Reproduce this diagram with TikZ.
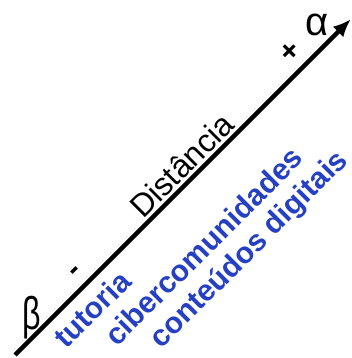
\documentclass[tikz,border=0pt]{standalone}
\usepackage{fontspec}
\setmainfont{Liberation Sans}
\usetikzlibrary{arrows.meta}
\definecolor{distblue}{HTML}{2640C4}
\tikzset{
  distaxis/.style={-{Latex[length=18pt,width=15pt]},line width=4.5pt},
  distlabel/.style={font=\fontsize{32}{36}\selectfont,rotate=45,anchor=base,inner sep=0pt},
  modlabel/.style={font=\bfseries\fontsize{30}{34}\selectfont,text=distblue,rotate=45,anchor=base,inner sep=0pt},
  signlabel/.style={font=\bfseries\fontsize{30}{34}\selectfont,rotate=45,inner sep=0pt},
  endlabel/.style={font=\fontsize{40}{44}\selectfont,inner sep=0pt}
}
\begin{document}
\begin{tikzpicture}[x=1pt,y=1pt]
\useasboundingbox (0,0) rectangle (352,358);
\begin{scope}[shift={(15,3)},rotate=45]
\coordinate (low) at (0,0);
\coordinate (high) at (475,0);
\draw[distaxis] (low) -- (high);
\node[distlabel] (dist) at (252,5) {Distância};
\node[signlabel] (minus) at (102,15) {-};
\node[signlabel] (plus) at (409,19) {+};
% modalidades
\node[modlabel] (tut) at (87,-33) {tutoria};
\node[modlabel] (ciber) at (210,-67) {cibercomunidades};
\node[modlabel] (cont) at (240,-100) {conteúdos digitais};
\end{scope}
\node[endlabel,xscale=0.7,font=\fontsize{46}{50}\selectfont] (beta) at (32,40) {β};
\node[endlabel] (alpha) at (317,333) {α};
\end{tikzpicture}
\end{document}
